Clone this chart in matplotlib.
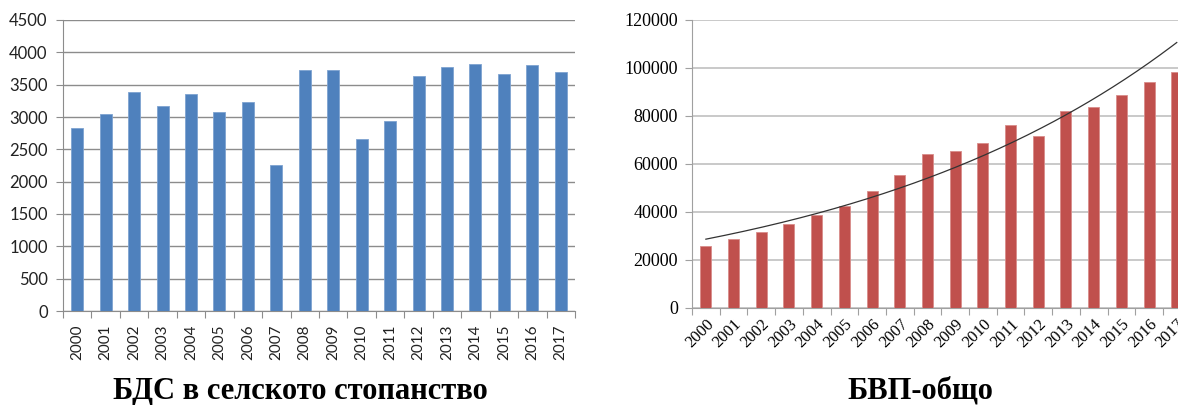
import numpy as np
import matplotlib
matplotlib.use("Agg")
import matplotlib.pyplot as plt

years = [str(y) for y in range(2000, 2018)]

# gross value added in agriculture
bds_agri = [2830, 3040, 3390, 3170, 3350, 3080, 3235, 2260, 3725,
            3725, 2660, 2940, 3630, 3770, 3820, 3660, 3800, 3690]

# total GDP
gdp_total = [25700, 28500, 31700, 35000, 38500, 42500, 48500, 55300, 64000,
             65400, 68600, 76000, 71800, 82000, 83700, 88600, 94300, 98500]

fig = plt.figure(figsize=(11.78, 4.05), dpi=100)

# left chart: agriculture
ax1 = fig.add_axes([63/1178, 1-311/405, 512/1178, 291/405])
x = np.arange(len(years))
ax1.bar(x, bds_agri, width=0.42, color='#4f81bd', edgecolor='#7ea3d1', linewidth=0.6, zorder=3)
ax1.set_xlim(-0.5, len(years)-0.5)
ax1.set_ylim(0, 4500)
ax1.set_yticks(range(0, 4501, 500))
ax1.grid(axis='y', color='#8c8c8c', linewidth=1.0, zorder=0)
for s in ['top', 'right']:
    ax1.spines[s].set_visible(False)
for s in ['left', 'bottom']:
    ax1.spines[s].set_color('#8c8c8c')
ax1.set_xticks(np.append(x - 0.5, len(years) - 0.5))
ax1.set_xticklabels([])
ax1.set_xticks(x, minor=True)
ax1.set_xticklabels(years, minor=True, rotation=90, fontsize=11, family='Lato', color='#222222')
ax1.tick_params(axis='x', which='major', length=5, color='#8c8c8c')
ax1.tick_params(axis='x', which='minor', length=0, pad=10)
ax1.tick_params(axis='y', length=5, color='#8c8c8c', labelsize=12, pad=6)
for lab in ax1.get_yticklabels():
    lab.set_family('Lato')
    lab.set_color('#222222')

fig.text(300/1178, 1-399/405, 'БДС в селското стопанство', family='Liberation Serif',
         fontweight='bold', fontsize=22, ha='center', va='baseline')

# right chart: GDP
ax2 = fig.add_axes([692/1178, 1-307.7/405, 498.6/1178, 287.7/405])
ax2.bar(x, gdp_total, width=0.40, color='#c0504d', edgecolor='#d98c8a', linewidth=0.6, zorder=3)

# exponential trendline fitted to the data
k, b = np.polyfit(x, np.log(gdp_total), 1)
xt = np.linspace(0, len(years)-1, 200)
ax2.plot(xt, np.exp(b + k*xt), color='#333333', linewidth=0.9, zorder=4)

ax2.set_xlim(-0.5, len(years)-0.5)
ax2.set_ylim(0, 120000)
ax2.set_yticks(range(0, 120001, 20000))
ax2.grid(axis='y', color='#c0c0c0', linewidth=1.2, zorder=0)
for s in ['top', 'right']:
    ax2.spines[s].set_visible(False)
for s in ['left', 'bottom']:
    ax2.spines[s].set_color('#a0a0a0')
ax2.set_xticks(np.append(x - 0.5, len(years) - 0.5))
ax2.set_xticklabels([])
ax2.set_xticks(x, minor=True)
ax2.set_xticklabels(years, minor=True, rotation=45, ha='right', rotation_mode='anchor',
                    fontsize=12, family='Liberation Serif')
ax2.tick_params(axis='x', which='minor', length=0, pad=6)
ax2.tick_params(axis='x', which='major', length=5, color='#a0a0a0')
ax2.tick_params(axis='y', length=5, color='#a0a0a0', labelsize=13, pad=5)
for lab in ax2.get_yticklabels():
    lab.set_family('Liberation Serif')
for lab in ax2.get_xticklabels(minor=True):
    lab.set_x(lab.get_position()[0] - 0.12)

fig.text(920/1178, 1-399/405, 'БВП-общо', family='Liberation Serif',
         fontweight='bold', fontsize=22, ha='center', va='baseline')

fig.savefig('out.png', dpi=100)
